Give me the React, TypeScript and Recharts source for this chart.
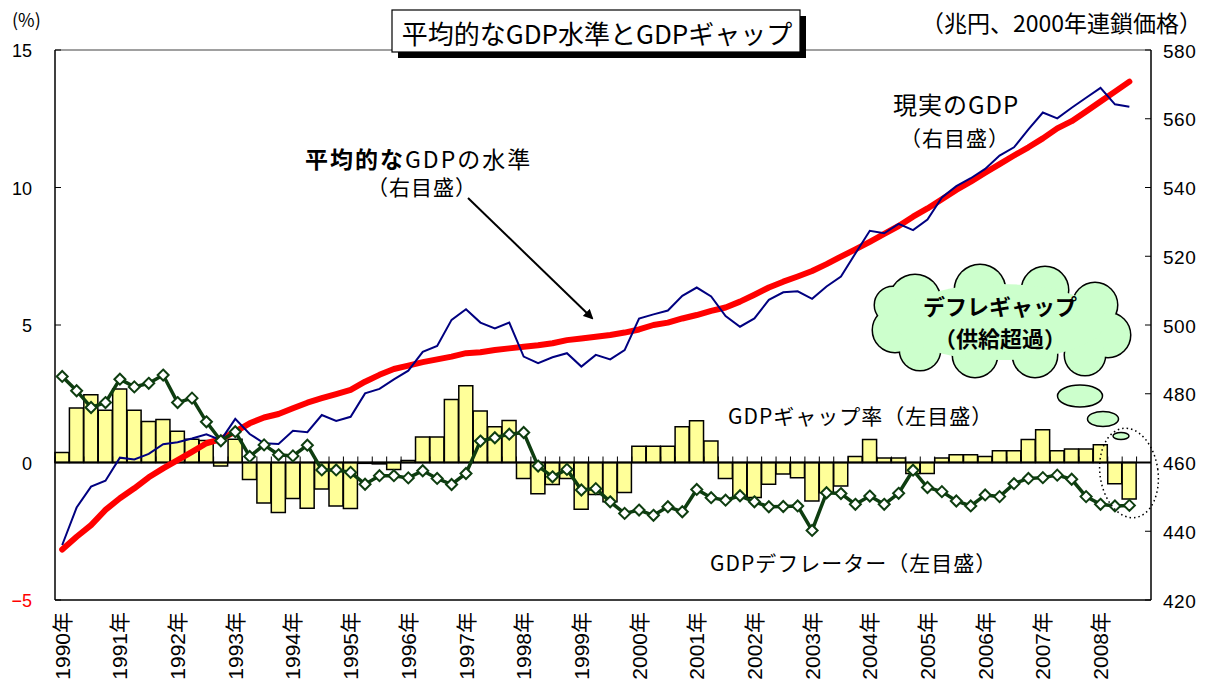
import React from 'react'
import { ComposedChart, Bar, Line, XAxis, YAxis, ReferenceLine } from 'recharts'

// 1990Q1 .. 2008Q4 (last quarter left empty, as in the source chart)
const years = [1990, 1991, 1992, 1993, 1994, 1995, 1996, 1997, 1998, 1999, 2000, 2001, 2002, 2003, 2004, 2005, 2006, 2007, 2008]
const quarters = years.flatMap((y) => [1, 2, 3, 4].map((q) => `${y}Q${q}`))

// GDPギャップ率 (%), left axis
const gdpGap = [
  0.36, 1.98, 2.46, 1.9, 2.67, 1.9, 1.49, 1.56, 1.14, 0.85, 0.8, -0.13, 0.85, -0.62, -1.47, -1.82,
  -1.31, -1.66, -0.96, -1.58, -1.67, -0.03, -0.05, -0.25, 0.07, 0.93, 0.93, 2.29, 2.79, 1.87, 1.3, 1.53,
  -0.58, -1.14, -0.8, -0.58, -1.7, -1.16, -1.43, -1.09, 0.59, 0.59, 0.59, 1.3, 1.52, 0.78, -0.58, -1.27,
  -1.27, -0.79, -0.42, -0.55, -1.4, -1.1, -0.85, 0.22, 0.84, 0.16, 0.16, -0.4, -0.4, 0.16, 0.28, 0.28,
  0.22, 0.43, 0.43, 0.84, 1.19, 0.43, 0.49, 0.49, 0.65, -0.77, -1.33,
]

// GDPデフレーター (%), left axis
const deflator = [
  3.13, 2.61, 2.0, 2.18, 3.03, 2.75, 2.88, 3.18, 2.18, 2.34, 1.48, 0.79, 1.12, 0.22, 0.64, 0.28,
  0.24, 0.63, -0.27, -0.27, -0.36, -0.79, -0.48, -0.48, -0.56, -0.3, -0.58, -0.8, -0.4, 0.78, 0.9, 1.03,
  1.09, -0.13, -0.52, -0.25, -1.0, -0.95, -1.43, -1.85, -1.73, -1.92, -1.61, -1.79, -0.98, -1.28, -1.37, -1.21,
  -1.43, -1.61, -1.6, -1.58, -2.47, -1.1, -1.13, -1.52, -1.22, -1.52, -1.12, -0.28, -0.91, -1.06, -1.4, -1.58,
  -1.18, -1.24, -0.77, -0.58, -0.55, -0.46, -0.61, -1.24, -1.52, -1.58, -1.56,
]

// 平均的なGDPの水準 (兆円), right axis
const avgGdp = [
  434.7, 438.4, 441.8, 446.2, 449.6, 452.5, 455.7, 458.3, 460.7, 463.1, 465.6, 466.8, 469.0, 471.4, 473.1, 474.1,
  475.8, 477.4, 478.7, 479.9, 481.1, 483.5, 485.5, 487.2, 488.2, 489.2, 490.0, 490.8, 491.8, 492.1, 492.7, 493.2,
  493.7, 494.1, 494.7, 495.6, 496.1, 496.6, 497.1, 497.8, 498.7, 500.0, 500.7, 501.9, 502.9, 504.1, 505.1, 506.8,
  508.8, 510.9, 512.6, 514.1, 515.7, 517.7, 519.9, 522.0, 524.2, 526.5, 528.8, 531.5, 533.9, 536.6, 539.3, 541.7,
  544.3, 546.8, 549.3, 551.7, 554.3, 557.2, 559.3, 562.1, 565.0, 567.9, 570.8,
]

// 現実のGDP (兆円), right axis
const realGdp = [
  436.0, 446.9, 453.0, 454.7, 461.4, 460.9, 462.5, 465.3, 465.9, 467.0, 468.2, 466.5, 472.7, 468.3, 465.6, 465.4,
  469.2, 468.8, 473.8, 472.1, 473.3, 480.1, 481.4, 484.2, 486.7, 492.2, 493.9, 501.5, 504.6, 500.7, 499.0, 500.7,
  490.8, 488.9, 490.6, 491.8, 487.9, 491.3, 490.0, 492.7, 501.9, 503.1, 504.2, 508.5, 510.9, 508.3, 502.6, 499.5,
  501.9, 507.3, 509.5, 509.8, 507.6, 511.2, 514.1, 520.8, 527.4, 526.7, 529.4, 527.6, 530.7, 537.1, 540.4, 542.7,
  545.4, 549.3, 551.7, 556.9, 561.8, 560.1, 563.2, 566.1, 569.0, 564.2, 563.5,
]

const leftTicks = [-5, 0, 5, 10, 15]
const rightTicks = [420, 440, 460, 480, 500, 520, 540, 560, 580]

const data = quarters.map((q, i) => ({
  q,
  gap: gdpGap[i] ?? null,
  defl: deflator[i] ?? null,
  avg: avgGdp[i] ?? null,
  real: realGdp[i] ?? null,
}))

const NUM_FONT = "'Liberation Sans', Arial, sans-serif"
const JP_FONT = "'Noto Sans CJK JP', sans-serif"
const GREEN = '#0e3d10'

function YearTick({ x, y, payload }: any) {
  return (
    <text
      transform={`translate(${x},${y + 4}) rotate(-90)`}
      textAnchor="end"
      dominantBaseline="central"
      fontSize={21}
      fontFamily="'Liberation Sans', 'Noto Sans CJK JP', sans-serif"
      fill="#000"
    >
      {String(payload.value).slice(0, 4)}年
    </text>
  )
}

function LeftTick({ x, y, payload }: any) {
  const v = payload.value as number
  return (
    <g>
      <line x1={x + 23} x2={x + 29} y1={y} y2={y} stroke="#000" strokeWidth={1} />
      <text x={x} y={y + 1} textAnchor="end" dominantBaseline="central" fontSize={18} fontFamily={NUM_FONT} fill={v < 0 ? '#ff0000' : '#000'}>
        {v < 0 ? `−${-v}` : v}
      </text>
    </g>
  )
}

function RightTick({ x, y, payload }: any) {
  return (
    <g>
      <line x1={x - 12} x2={x - 18} y1={y} y2={y} stroke="#000" strokeWidth={1} />
      <text x={x} y={y + 1} textAnchor="start" dominantBaseline="central" fontSize={19} fontFamily={NUM_FONT} fill="#000" letterSpacing={0.5}>
        {payload.value}
      </text>
    </g>
  )
}

// zero line of the left axis, with the quarter tick marks pointing up
function ZeroAxis(props: any) {
  const { x1, x2, y1 } = props
  const step = (x2 - x1) / quarters.length
  return (
    <g>
      <line x1={x1} x2={x2} y1={y1} y2={y1} stroke="#000" strokeWidth={2} />
      {quarters.map((_, i) => (
        <line key={i} x1={x1 + i * step} x2={x1 + i * step} y1={y1} y2={y1 - 6} stroke="#000" strokeWidth={1} />
      ))}
    </g>
  )
}

function Diamond({ cx, cy, index }: any) {
  if (cx == null || cy == null) return <g key={index} />
  const r = 5.5
  return (
    <path
      key={index}
      d={`M${cx},${cy - r} L${cx + r},${cy} L${cx},${cy + r} L${cx - r},${cy} Z`}
      fill="#fff"
      stroke={GREEN}
      strokeWidth={2}
    />
  )
}

const cloudLobes = [
  [915, 300, 25], [980, 290, 25], [1045, 290, 23], [1095, 305, 22], [1108, 335, 22],
  [1085, 355, 20], [1035, 355, 22], [975, 355, 22], [920, 350, 20], [895, 330, 22], [893, 305, 18],
]

function Overlay() {
  return (
    <svg width={1209} height={680} style={{ position: 'absolute', left: 0, top: 0, pointerEvents: 'none' }}>
      <defs>
        <marker id="arr" markerWidth="10" markerHeight="10" refX="8" refY="5" orient="auto" markerUnits="userSpaceOnUse">
          <path d="M0,0 L10,5 L0,10 Z" fill="#000" />
        </marker>
      </defs>

      {/* title box */}
      <rect x={398} y={16} width={408} height={42} fill="#000" />
      <rect x={392} y={10} width={408} height={42} fill="#fff" stroke="#000" strokeWidth={1.2} />
      <text x={597} y={32} textAnchor="middle" dominantBaseline="central" fontSize={26} fontFamily={JP_FONT}>
        平均的なGDP水準とGDPギャップ
      </text>

      <text x={12} y={19} dominantBaseline="central" fontSize={18} fontFamily={JP_FONT}>(%)</text>
      <text x={1202} y={22} textAnchor="end" dominantBaseline="central" fontSize={23} fontFamily={JP_FONT}>
        （兆円、2000年連鎖価格）
      </text>

      {/* average GDP label + arrow */}
      <text x={305} y={158} dominantBaseline="central" fontSize={23} fontFamily={JP_FONT} letterSpacing={2}>
        <tspan fontWeight="bold">平均的な</tspan>
        <tspan>GDPの水準</tspan>
      </text>
      <text x={422} y={186} textAnchor="middle" dominantBaseline="central" fontSize={21} fontFamily={JP_FONT} letterSpacing={1}>
        （右目盛）
      </text>
      <line x1={468} y1={198} x2={592} y2={318} stroke="#000" strokeWidth={2} markerEnd="url(#arr)" />

      {/* real GDP label */}
      <text x={893} y={103} dominantBaseline="central" fontSize={24} fontFamily={JP_FONT} letterSpacing={1}>
        現実のGDP
      </text>
      <text x={955} y={137} textAnchor="middle" dominantBaseline="central" fontSize={21} fontFamily={JP_FONT} letterSpacing={1}>
        （右目盛）
      </text>

      {/* series labels */}
      <text x={728} y={415} dominantBaseline="central" fontSize={21} fontFamily={JP_FONT} letterSpacing={1}>
        GDPギャップ率（左目盛）
      </text>
      <text x={710} y={562} dominantBaseline="central" fontSize={21} fontFamily={JP_FONT} letterSpacing={1}>
        GDPデフレーター（左目盛）
      </text>

      {/* cloud */}
      <g>
        {cloudLobes.map(([cx, cy, r], i) => (
          <circle key={`o${i}`} cx={cx} cy={cy} r={r} fill="#ccffcc" stroke="#000" strokeWidth={3} />
        ))}
        {cloudLobes.map(([cx, cy, r], i) => (
          <circle key={`f${i}`} cx={cx} cy={cy} r={r} fill="#ccffcc" />
        ))}
        <ellipse cx={1000} cy={322} rx={105} ry={38} fill="#ccffcc" />
      </g>
      <text x={1000} y={305} textAnchor="middle" dominantBaseline="central" fontSize={22} fontWeight="bold" fontFamily={JP_FONT}>
        デフレギャップ
      </text>
      <text x={1000} y={337} textAnchor="middle" dominantBaseline="central" fontSize={22} fontWeight="bold" fontFamily={JP_FONT}>
        （供給超過）
      </text>
      <ellipse cx={1080} cy={396} rx={22.5} ry={11} fill="#ccffcc" stroke="#000" strokeWidth={1.5} />
      <ellipse cx={1103} cy={419} rx={15.5} ry={7.5} fill="#ccffcc" stroke="#000" strokeWidth={1.5} />
      <ellipse cx={1121} cy={436} rx={8} ry={3.5} fill="#ccffcc" stroke="#000" strokeWidth={1.5} />

      {/* dotted ring around latest quarters */}
      <ellipse cx={1129} cy={473} rx={29} ry={45} fill="none" stroke="#000" strokeWidth={1.5} strokeDasharray="1.5 3" transform="rotate(-8 1129 473)" />
    </svg>
  )
}

export default function App() {
  return (
    <div style={{ position: 'absolute', left: 0, top: 0, width: 1209, height: 680, background: '#fff' }}>
      <ComposedChart
        width={1209}
        height={680}
        data={data}
        margin={{ top: 50, right: 0, bottom: 0, left: 0 }}
        barCategoryGap={0}
        barGap={0}
      >
        <XAxis
          dataKey="q"
          xAxisId={0}
          interval={3}
          height={80}
          tickLine={false}
          axisLine={{ stroke: '#000', strokeWidth: 1.5 }}
          tick={<YearTick />}
        />
        <YAxis
          yAxisId="left"
          domain={[-5, 15]}
          ticks={leftTicks}
          width={55}
          tickLine={false}
          tickSize={0}
          tickMargin={23}
          axisLine={{ stroke: '#000', strokeWidth: 1.5 }}
          tick={<LeftTick />}
        />
        <YAxis
          yAxisId="right"
          orientation="right"
          domain={[420, 580]}
          ticks={rightTicks}
          width={58}
          tickLine={false}
          tickSize={0}
          tickMargin={12}
          axisLine={{ stroke: '#000', strokeWidth: 1.5 }}
          tick={<RightTick />}
        />
        <ReferenceLine yAxisId="left" y={15} stroke="#808080" strokeWidth={1.5} />
        <Bar yAxisId="left" dataKey="gap" fill="#ffff99" stroke="#000" strokeWidth={1.5} isAnimationActive={false} />
        <ReferenceLine yAxisId="left" y={0} shape={(p: any) => <ZeroAxis {...p} />} />
        <Line
          yAxisId="right"
          dataKey="avg"
          stroke="#ff0000"
          strokeWidth={6}
          strokeLinecap="round"
          strokeLinejoin="round"
          dot={false}
          isAnimationActive={false}
        />
        <Line yAxisId="right" dataKey="real" stroke="#000080" strokeWidth={2} dot={false} isAnimationActive={false} />
        <Line
          yAxisId="left"
          dataKey="defl"
          stroke={GREEN}
          strokeWidth={3.5}
          dot={(p: any) => <Diamond key={p.index} {...p} />}
          isAnimationActive={false}
        />
      </ComposedChart>
      <Overlay />
    </div>
  )
}
